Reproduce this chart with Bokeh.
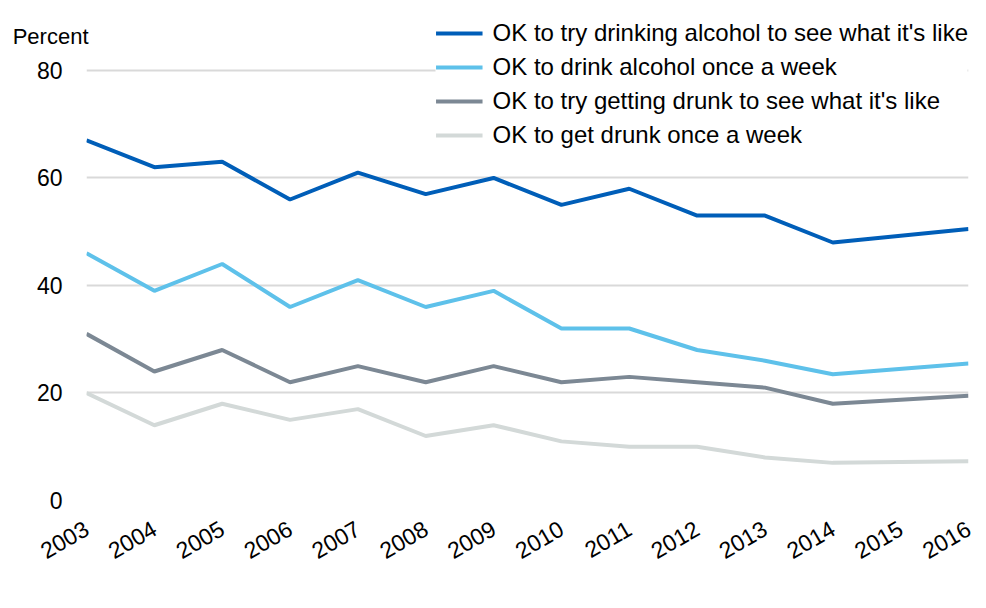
from bokeh.plotting import figure
from bokeh.models import Range1d, FixedTicker, Legend, LegendItem, LinearAxis
from bokeh.embed import file_html
from bokeh.resources import INLINE
import math

# Data (2015 not surveyed; line joins 2014 to 2016)
years = [2003, 2004, 2005, 2006, 2007, 2008, 2009, 2010, 2011, 2012, 2013, 2014, 2016]
try_drinking = [67, 62, 63, 56, 61, 57, 60, 55, 58, 53, 53, 48, 50.5]
drink_weekly = [46, 39, 44, 36, 41, 36, 39, 32, 32, 28, 26, 23.5, 25.5]
try_drunk = [31, 24, 28, 22, 25, 22, 25, 22, 23, 22, 21, 18, 19.5]
drunk_weekly = [20, 14, 18, 15, 17, 12, 14, 11, 10, 10, 8, 7, 7.3]

series_names = [
    "OK to try drinking alcohol to see what it's like",
    "OK to drink alcohol once a week",
    "OK to try getting drunk to see what it's like",
    "OK to get drunk once a week",
]
series_values = [try_drinking, drink_weekly, try_drunk, drunk_weekly]
colors = ["#005EB8", "#5EC1EA", "#7C8894", "#D3D9D8"]

tick_years = list(range(2003, 2017))
y_ticks = [0, 20, 40, 60, 80]
y_label = "Percent"
y_label_pos = 86.3   # where the unit label sits on the value scale

FONT = "Liberation Sans"

p = figure(width=978, height=600, output_backend="svg", toolbar_location=None,
           x_range=Range1d(2003, 2016), y_range=Range1d(0, 89.67),
           min_border_left=86, min_border_right=10, min_border_top=18, min_border_bottom=100)

p.outline_line_color = None
p.xgrid.grid_line_color = None
p.ygrid.grid_line_color = "#D9D9D9"
p.ygrid.grid_line_width = 2

p.yaxis.ticker = FixedTicker(ticks=y_ticks)
p.ygrid.ticker = FixedTicker(ticks=y_ticks)
p.xaxis.ticker = FixedTicker(ticks=tick_years)
p.xaxis.major_label_overrides = {y: str(y) for y in tick_years}

# second left axis carrying only the unit label "Percent"
unit_axis = LinearAxis(ticker=FixedTicker(ticks=[y_label_pos]),
                       major_label_overrides={y_label_pos: y_label})
p.add_layout(unit_axis, "left")

for ax in (p.xaxis[0], p.yaxis[0], unit_axis):
    ax.axis_line_color = None
    ax.major_tick_line_color = None
    ax.minor_tick_line_color = None
    ax.major_tick_out = 0
    ax.major_tick_in = 0
    ax.major_label_text_font = FONT
    ax.major_label_text_font_size = "23px"
    ax.major_label_text_color = "#000000"

unit_axis.major_label_text_font_size = "22px"
unit_axis.major_label_standoff = -55

p.yaxis[0].major_label_standoff = 24
p.xaxis.major_label_orientation = math.pi / 6
p.xaxis.major_label_standoff = 26

items = []
for name, vals, c in zip(series_names, series_values, colors):
    r = p.line(years, vals, line_color=c, line_width=4)
    items.append(LegendItem(label=name, renderers=[r]))

legend = Legend(items=items, location="top_right",
                label_text_font=FONT, label_text_font_size="24px",
                label_text_color="#000000",
                glyph_width=47, glyph_height=30, label_height=30,
                label_standoff=10, spacing=4, padding=8, margin=0,
                border_line_color=None, background_fill_color="white",
                background_fill_alpha=1.0)
p.add_layout(legend)

open("out.html", "w").write(file_html(p, INLINE))
